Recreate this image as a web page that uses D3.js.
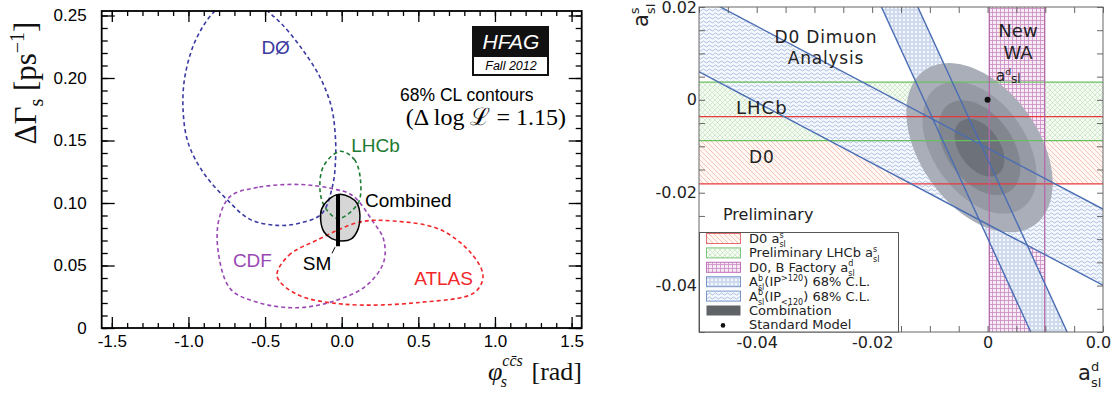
<!DOCTYPE html>
<html>
<head>
<meta charset="utf-8">
<script src="https://d3js.org/d3.v7.min.js"></script>
<style>
  body { margin: 0; background: #fff; }
  svg text { font-family: "Liberation Sans", Arial, sans-serif; }
</style>
</head>
<body>
<svg id="fig" width="1111" height="394"></svg>
<script>
// ---------- left panel: phi_s vs DeltaGamma_s, 68% CL contours ----------
var phiTicks = [-1.5, -1.0, -0.5, 0.0, 0.5, 1.0, 1.5];
var dgTicks = [0, 0.05, 0.10, 0.15, 0.20, 0.25];

var d0Contour = [[-0.62, 0.268], [-0.826, 0.2536], [-0.952, 0.2305], [-1.023, 0.2012], [-1.035, 0.1746],
  [-1.002, 0.1481], [-0.902, 0.1242], [-0.75, 0.1029], [-0.598, 0.0869], [-0.422, 0.0821], [-0.27, 0.0840],
  [-0.13, 0.0915], [-0.06, 0.1135], [-0.04, 0.1348], [-0.043, 0.1561], [-0.068, 0.1773], [-0.144, 0.2012],
  [-0.27, 0.2251], [-0.396, 0.2438], [-0.485, 0.2536]];
var lhcbContour = [[-0.01, 0.1414], [0.083, 0.1348], [0.122, 0.1188], [0.108, 0.1002], [-0.02, 0.0875],
  [-0.10, 0.0949], [-0.14, 0.1082], [-0.119, 0.1294]];
var cdfContour = [[-0.27, 0.1148], [-0.548, 0.1125], [-0.725, 0.1055], [-0.801, 0.0869], [-0.805, 0.0603],
  [-0.725, 0.0311], [-0.548, 0.0205], [-0.295, 0.0162], [-0.043, 0.0218], [0.159, 0.0337], [0.273, 0.0524],
  [0.273, 0.071], [0.206, 0.0848], [0.07, 0.1060], [-0.06, 0.1114]];
var atlasContour = [[-0.422, 0.0417], [-0.346, 0.0580], [-0.163, 0.0702], [0.119, 0.0848], [0.336, 0.0856],
  [0.639, 0.0789], [0.841, 0.0603], [0.922, 0.0417], [0.866, 0.0284], [0.513, 0.0205], [0.008, 0.0191],
  [-0.295, 0.0271]];
var combinedContour = [[-0.022, 0.1069], [0.054, 0.1047], [0.102, 0.0994], [0.119, 0.0901], [0.108, 0.0795],
  [0.065, 0.0715], [0.0, 0.0696], [-0.065, 0.0715], [-0.115, 0.0768], [-0.137, 0.0861], [-0.130, 0.0955],
  [-0.087, 0.1026]];
var smPhi = -0.024;
var smDGamma = [0.0654, 0.1069];

// ---------- right panel: a_sl^d vs a_sl^s ----------
var asdTicks = [-0.04, -0.02, 0, 0.02];
var assTicks = [0.02, 0, -0.02, -0.04];
var d0AssBand = [-0.0181, -0.0036];
var lhcbAssBand = [-0.0088, 0.0038];
var waAsdBand = [0.0003, 0.0099];
var ipHighSlope = -0.3696;            // x = x0 + slope * y
var ipHighX0 = [-0.0110, -0.0047];
var ipLowSlope = -0.657;              // y = y0 + slope * x
var ipLowY0 = [-0.0268, -0.0104];
var comboCenter = [-0.0014, -0.0103];
var comboSigma = [0.01267, 0.01822];
var comboRho = -0.42;
var comboLevels = [1.0, 0.78, 0.56, 0.34];
var smPoint = [0, 0];

var svg = d3.select("#fig");
var defs = svg.append("defs");

// ======================= LEFT =======================
var x1 = d3.scaleLinear().domain([-1.566, 1.566]).range([101.7, 581.7]);
var y1 = d3.scaleLinear().domain([0, 0.2536]).range([328, 11]);
var L = svg.append("g");

defs.append("clipPath").attr("id", "clipL").append("rect")
  .attr("x", x1.range()[0]).attr("y", y1.range()[1])
  .attr("width", x1.range()[1] - x1.range()[0]).attr("height", y1.range()[0] - y1.range()[1]);

var cline = d3.line().x(function(d) { return x1(d[0]); }).y(function(d) { return y1(d[1]); })
  .curve(d3.curveCatmullRomClosed.alpha(0.5));

var plotL = L.append("g").attr("clip-path", "url(#clipL)");

plotL.append("path").datum(combinedContour).attr("d", cline)
  .attr("fill", "#d6d6d6").attr("stroke", "none");

var dashed = [
  { pts: d0Contour, color: "#3a3aa2" },
  { pts: cdfContour, color: "#9a48b4" },
  { pts: atlasContour, color: "#f2272b" },
  { pts: lhcbContour, color: "#1d7a32" }
];
plotL.selectAll("path.cont").data(dashed).enter().append("path")
  .attr("class", "cont")
  .attr("d", function(d) { return cline(d.pts); })
  .attr("fill", "none").attr("stroke", function(d) { return d.color; })
  .attr("stroke-width", 1.6).attr("stroke-dasharray", "4,3");

plotL.append("path").datum(combinedContour).attr("d", cline)
  .attr("fill", "none").attr("stroke", "#000").attr("stroke-width", 1.5);

plotL.append("line")
  .attr("x1", x1(smPhi)).attr("x2", x1(smPhi))
  .attr("y1", y1(smDGamma[0])).attr("y2", y1(smDGamma[1]))
  .attr("stroke", "#000").attr("stroke-width", 4);
plotL.append("line")
  .attr("x1", x1(smPhi) - 3).attr("y1", y1(smDGamma[0]) + 1)
  .attr("x2", x1(smPhi) - 6).attr("y2", y1(smDGamma[0]) + 7)
  .attr("stroke", "#000").attr("stroke-width", 1);

// axes with mirrored ticks
var phiMinor = d3.range(-15, 16).map(function(i) { return i / 10; });
var dgMinor = d3.range(0, 26).map(function(i) { return i / 100; });
function styleAx(g) {
  g.select(".domain").remove();
  g.selectAll(".tick line").attr("stroke", "#000").attr("stroke-width", 1.3);
  g.selectAll("text").attr("fill", "#000").style("font-size", "17px");
}
var xl0 = x1.range()[0], xl1 = x1.range()[1], yl0 = y1.range()[0], yl1 = y1.range()[1];

L.append("g").attr("transform", "translate(0," + yl0 + ")")
  .call(d3.axisBottom(x1).tickValues(phiMinor).tickSize(-5).tickSizeOuter(0).tickFormat("")).call(styleAx);
L.append("g").attr("transform", "translate(0," + yl0 + ")")
  .call(d3.axisBottom(x1).tickValues(phiTicks).tickSize(-11).tickSizeOuter(0).tickPadding(7)
    .tickFormat(function(d) { return d.toFixed(1); })).call(styleAx);
L.append("g").attr("transform", "translate(0," + yl1 + ")")
  .call(d3.axisTop(x1).tickValues(phiMinor).tickSize(-5).tickSizeOuter(0).tickFormat("")).call(styleAx);
L.append("g").attr("transform", "translate(0," + yl1 + ")")
  .call(d3.axisTop(x1).tickValues(phiTicks).tickSize(-11).tickSizeOuter(0).tickFormat("")).call(styleAx);

L.append("g").attr("transform", "translate(" + xl0 + ",0)")
  .call(d3.axisLeft(y1).tickValues(dgMinor).tickSize(-6).tickSizeOuter(0).tickFormat("")).call(styleAx);
L.append("g").attr("transform", "translate(" + xl0 + ",0)")
  .call(d3.axisLeft(y1).tickValues(dgTicks).tickSize(-13).tickSizeOuter(0).tickPadding(15)
    .tickFormat(function(d) { return d === 0 ? "0" : d.toFixed(2); })).call(styleAx);
L.append("g").attr("transform", "translate(" + xl1 + ",0)")
  .call(d3.axisRight(y1).tickValues(dgMinor).tickSize(-6).tickSizeOuter(0).tickFormat("")).call(styleAx);
L.append("g").attr("transform", "translate(" + xl1 + ",0)")
  .call(d3.axisRight(y1).tickValues(dgTicks).tickSize(-13).tickSizeOuter(0).tickFormat("")).call(styleAx);

L.append("rect").attr("x", xl0).attr("y", yl1).attr("width", xl1 - xl0).attr("height", yl0 - yl1)
  .attr("fill", "none").attr("stroke", "#000").attr("stroke-width", 1.8);

// contour labels
var lbl = [
  { t: "DØ", x: -0.524, y: 0.219, c: "#3a3aa2" },
  { t: "LHCb", x: 0.062, y: 0.1406, c: "#1d7a32" },
  { t: "Combined", x: 0.152, y: 0.0967, c: "#000" },
  { t: "CDF", x: -0.71, y: 0.0489, c: "#9a48b4" },
  { t: "SM", x: -0.254, y: 0.0463, c: "#000" },
  { t: "ATLAS", x: 0.473, y: 0.0343, c: "#f2272b" }
];
L.selectAll("text.lbl").data(lbl).enter().append("text").attr("class", "lbl")
  .attr("x", function(d) { return x1(d.x); }).attr("y", function(d) { return y1(d.y); })
  .attr("fill", function(d) { return d.c; }).style("font-size", "19px").text(function(d) { return d.t; });

// HFAG logo and CL note
L.append("rect").attr("x", 472).attr("y", 26).attr("width", 77).attr("height", 50).attr("fill", "#111");
L.append("rect").attr("x", 474).attr("y", 57).attr("width", 73).attr("height", 17).attr("fill", "#fff");
L.append("text").attr("x", 511).attr("y", 49).attr("text-anchor", "middle").attr("fill", "#fff")
  .style("font-size", "21px").style("font-style", "italic").text("HFAG");
L.append("text").attr("x", 511).attr("y", 70).attr("text-anchor", "middle").attr("fill", "#000")
  .style("font-size", "12.5px").style("font-style", "italic").text("Fall 2012");
L.append("text").attr("x", 400).attr("y", 101).style("font-size", "17.5px").text("68% CL contours");
L.append("text").attr("x", 566).attr("y", 125).attr("text-anchor", "end")
  .style("font-family", "'Liberation Serif', 'DejaVu Serif', serif").style("font-size", "24px")
  .text("(Δ log ℒ = 1.15)");

// axis titles
var yt = L.append("text").attr("transform", "translate(36,83) rotate(-90)").attr("text-anchor", "middle")
  .style("font-family", "'Liberation Serif', serif").style("font-size", "31px").attr("fill", "#111");
yt.append("tspan").text("ΔΓ");
yt.append("tspan").attr("dy", 7).style("font-size", "20px").text("s");
yt.append("tspan").attr("dy", -7).text(" [ps");
yt.append("tspan").attr("dy", -12).style("font-size", "20px").text("−1");
yt.append("tspan").attr("dy", 12).text("]");

var xt = L.append("text").attr("x", 582).attr("y", 380).attr("text-anchor", "end")
  .style("font-family", "'Liberation Serif', serif").style("font-size", "26px").attr("fill", "#111");
xt.append("tspan").style("font-style", "italic").text("φ");
xt.append("tspan").attr("dy", -14).style("font-size", "16px").style("font-style", "italic").text("cc̄s");
xt.append("tspan").attr("dx", -22).attr("dy", 21).style("font-size", "16px").style("font-style", "italic").text("s");
xt.append("tspan").attr("dx", 18).attr("dy", -7).text(" [rad]");

// ======================= RIGHT =======================
var x2 = d3.scaleLinear().domain([-0.05, 0.02]).range([699, 1103]);
var y2 = d3.scaleLinear().domain([-0.05, 0.02]).range([332, 7]);
var R = svg.append("g");
var xr0 = x2.range()[0], xr1 = x2.range()[1], yr0 = y2.range()[0], yr1 = y2.range()[1];

defs.append("clipPath").attr("id", "clipR").append("rect")
  .attr("x", xr0).attr("y", yr1).attr("width", xr1 - xr0).attr("height", yr0 - yr1);

function pattern(id, w, h, bg) {
  var p = defs.append("pattern").attr("id", id).attr("patternUnits", "userSpaceOnUse")
    .attr("width", w).attr("height", h);
  if (bg) p.append("rect").attr("width", w).attr("height", h).attr("fill", bg);
  return p;
}
pattern("pRed", 5, 5, "#fff8f5").append("path").attr("d", "M0,0L5,5M-1,4L1,6M4,-1L6,1")
  .attr("stroke", "#f1ad9b").attr("stroke-width", 0.7);
pattern("pGreen", 5, 5, "#f6fbf4").append("path").attr("d", "M0,0L5,5M5,0L0,5M-1,4L1,6M4,-1L6,1M-1,1L1,-1M4,6L6,4")
  .attr("stroke", "#b2dbac").attr("stroke-width", 0.55);
pattern("pPurple", 4, 4, "#f7eaf5").append("path").attr("d", "M0,0.5H4M0.5,0V4")
  .attr("stroke", "#c98ac4").attr("stroke-width", 0.8);
pattern("pDots", 4, 4, "#f5f8fd").append("circle").attr("cx", 2).attr("cy", 2).attr("r", 1.3)
  .attr("fill", "none").attr("stroke", "#8ea6d6").attr("stroke-width", 0.6);
pattern("pWave", 6, 4, "#f5f8fd").append("path").attr("d", "M0,2Q1.5,0 3,2T6,2")
  .attr("fill", "none").attr("stroke", "#8ea6d6").attr("stroke-width", 0.7);

var plotR = R.append("g").attr("clip-path", "url(#clipR)");
var pline = d3.line().x(function(d) { return x2(d[0]); }).y(function(d) { return y2(d[1]); });

// hatched band fills
[[d0AssBand, "pRed"], [lhcbAssBand, "pGreen"]].forEach(function(b) {
  plotR.append("rect").attr("x", xr0).attr("width", xr1 - xr0)
    .attr("y", y2(b[0][1])).attr("height", y2(b[0][0]) - y2(b[0][1])).attr("fill", "url(#" + b[1] + ")");
});
plotR.append("rect").attr("x", x2(waAsdBand[0])).attr("width", x2(waAsdBand[1]) - x2(waAsdBand[0]))
  .attr("y", yr1).attr("height", yr0 - yr1).attr("fill", "url(#pPurple)");

var yTop = 0.03, yBot = -0.06, xLo = -0.06, xHi = 0.03;
function hiLine(x0) { return [[x0 + ipHighSlope * yTop, yTop], [x0 + ipHighSlope * yBot, yBot]]; }
function loLine(y0) { return [[xLo, y0 + ipLowSlope * xLo], [xHi, y0 + ipLowSlope * xHi]]; }
var hiA = hiLine(ipHighX0[0]), hiB = hiLine(ipHighX0[1]);
var loA = loLine(ipLowY0[0]), loB = loLine(ipLowY0[1]);
plotR.append("path").attr("d", pline([hiA[0], hiB[0], hiB[1], hiA[1]]) + "Z").attr("fill", "url(#pDots)");
plotR.append("path").attr("d", pline([loA[0], loB[0], loB[1], loA[1]]) + "Z").attr("fill", "url(#pWave)");

// combination contours
var shades = ["#a9aeb9", "#959aa5", "#81868f", "#6d7179"];
var rhoC = Math.sqrt(1 - comboRho * comboRho);
var angles = d3.range(0, 360, 3);
plotR.selectAll("path.combo").data(comboLevels).enter().append("path").attr("class", "combo")
  .attr("d", function(k) {
    return pline(angles.map(function(a) {
      var t = a * Math.PI / 180, u = Math.cos(t), v = Math.sin(t);
      return [comboCenter[0] + k * comboSigma[0] * u,
              comboCenter[1] + k * comboSigma[1] * (comboRho * u + rhoC * v)];
    })) + "Z";
  })
  .attr("fill", function(k, i) { return shades[i]; });

// band edges
[[d0AssBand, "#e8393a"], [lhcbAssBand, "#6abf5f"]].forEach(function(b) {
  b[0].forEach(function(v) {
    plotR.append("line").attr("x1", xr0).attr("x2", xr1).attr("y1", y2(v)).attr("y2", y2(v))
      .attr("stroke", b[1]).attr("stroke-width", 1.3);
  });
});
waAsdBand.forEach(function(v) {
  plotR.append("line").attr("x1", x2(v)).attr("x2", x2(v)).attr("y1", yr1).attr("y2", yr0)
    .attr("stroke", "#b36aa9").attr("stroke-width", 1.3);
});
[hiA, hiB, loA, loB].forEach(function(l) {
  plotR.append("path").attr("d", pline(l)).attr("stroke", "#4a6db3").attr("stroke-width", 1.4).attr("fill", "none");
});
plotR.append("circle").attr("cx", x2(smPoint[0])).attr("cy", y2(smPoint[1])).attr("r", 3).attr("fill", "#111");

// right axes: inward ticks every 0.005 on all sides
var rMinor = d3.range(-10, 5).map(function(i) { return i * 0.005; });
function styleR(g) {
  g.select(".domain").remove();
  g.selectAll(".tick line").attr("stroke", "#666").attr("stroke-width", 1);
  g.selectAll("text").attr("fill", "#222").style("font-family", "'DejaVu Sans', sans-serif").style("font-size", "16px");
}
function fmtR(d) { return Math.abs(d) < 1e-9 ? "0" : d.toFixed(2); }
R.append("g").attr("transform", "translate(0," + yr0 + ")")
  .call(d3.axisBottom(x2).tickValues(rMinor).tickSize(-6).tickSizeOuter(0).tickFormat("")).call(styleR);
R.append("g").attr("transform", "translate(0," + yr0 + ")")
  .call(d3.axisBottom(x2).tickValues(asdTicks).tickSize(0).tickPadding(5).tickFormat(fmtR)).call(styleR);
R.append("g").attr("transform", "translate(0," + yr1 + ")")
  .call(d3.axisTop(x2).tickValues(rMinor).tickSize(-6).tickSizeOuter(0).tickFormat("")).call(styleR);
R.append("g").attr("transform", "translate(" + xr0 + ",0)")
  .call(d3.axisLeft(y2).tickValues(rMinor).tickSize(-6).tickSizeOuter(0).tickFormat("")).call(styleR);
R.append("g").attr("transform", "translate(" + xr0 + ",0)")
  .call(d3.axisLeft(y2).tickValues(assTicks).tickSize(0).tickPadding(2).tickFormat(fmtR)).call(styleR);
R.append("g").attr("transform", "translate(" + xr1 + ",0)")
  .call(d3.axisRight(y2).tickValues(rMinor).tickSize(-6).tickSizeOuter(0).tickFormat("")).call(styleR);

R.append("rect").attr("x", xr0).attr("y", yr1).attr("width", xr1 - xr0).attr("height", yr0 - yr1)
  .attr("fill", "none").attr("stroke", "#666").attr("stroke-width", 1);

// rich text helper (sup / sub / stacked)
function rich(t, parts, size) {
  var shift = 0, prev = null;
  parts.forEach(function(p) {
    var s = t.append("tspan").text(p.t);
    var target = p.sup ? -0.42 * size : (p.sub ? 0.32 * size : 0);
    if (target - shift !== 0) s.attr("dy", target - shift);
    shift = target;
    if (p.sup || p.sub) s.style("font-size", (size * 0.62) + "px");
    if (p.stack && prev) s.attr("dx", -prev.node().getComputedTextLength());
    prev = s;
  });
}
var sans = "'DejaVu Sans', sans-serif";

// annotations
function note(x, y, size, txt, anchor) {
  return R.append("text").attr("x", x).attr("y", y).attr("text-anchor", anchor || "start")
    .style("font-family", sans).style("font-size", size + "px").attr("fill", "#222").text(txt);
}
note(826, 43, 17, "D0 Dimuon", "middle").style("letter-spacing", "0.8px");
note(826, 64, 17, "Analysis", "middle").style("letter-spacing", "0.8px");
note(1018, 37, 18, "New", "middle");
note(1018, 59, 18, "WA", "middle");
var wa = R.append("text").attr("x", 996).attr("y", 81).style("font-family", sans)
  .style("font-size", "15px").attr("fill", "#222");
rich(wa, [{ t: "a" }, { t: "d", sup: true }, { t: "sl" }], 15);
wa.selectAll("tspan").filter(function(d, i) { return i === 2; }).style("font-size", "12px").attr("dy", 8);
note(736, 114, 18, "LHCb").style("letter-spacing", "1px");
note(749, 163, 17, "D0").style("letter-spacing", "1px");
note(723, 220, 16, "Preliminary");

// axis titles
var ryt = R.append("text").attr("transform", "translate(648,27) rotate(-90)")
  .style("font-family", sans).style("font-size", "21px").attr("fill", "#222");
rich(ryt, [{ t: "a" }, { t: "s", sup: true }, { t: "sl", sub: true, stack: true }], 21);
var rxt = R.append("text").attr("x", 1078).attr("y", 380)
  .style("font-family", sans).style("font-size", "21px").attr("fill", "#222");
rich(rxt, [{ t: "a" }, { t: "d", sup: true }, { t: "sl", sub: true, stack: true }], 21);

// legend
var legend = [
  { fill: "url(#pRed)", stroke: "#e46e6e", parts: [{ t: "D0 a" }, { t: "s", sup: true }, { t: "sl", sub: true, stack: true }] },
  { fill: "url(#pGreen)", stroke: "#7cc47c", parts: [{ t: "Preliminary LHCb a" }, { t: "s", sup: true }, { t: "sl", sub: true, stack: true }] },
  { fill: "url(#pPurple)", stroke: "#c070b8", parts: [{ t: "D0, B Factory a" }, { t: "d", sup: true }, { t: "sl", sub: true, stack: true }] },
  { fill: "url(#pDots)", stroke: "#7a97cc", parts: [{ t: "A" }, { t: "b", sup: true }, { t: "sl", sub: true, stack: true }, { t: "(IP" }, { t: ">120", sup: true }, { t: ") 68% C.L." }] },
  { fill: "url(#pWave)", stroke: "#7a97cc", parts: [{ t: "A" }, { t: "b", sup: true }, { t: "sl", sub: true, stack: true }, { t: "(IP" }, { t: "<120", sub: true }, { t: ") 68% C.L." }] },
  { fill: "#5f6267", stroke: "none", parts: [{ t: "Combination" }] },
  { dot: true, parts: [{ t: "Standard Model" }] }
];
var lg = R.append("g");
lg.append("rect").attr("x", 699.5).attr("y", 232.5).attr("width", 199).attr("height", 99.5)
  .attr("fill", "#fff").attr("stroke", "#555").attr("stroke-width", 1);
legend.forEach(function(d, i) {
  var base = 243 + i * 14.4;
  if (d.dot) {
    lg.append("circle").attr("cx", 723).attr("cy", base - 4).attr("r", 2.3).attr("fill", "#111");
  } else {
    lg.append("rect").attr("x", 706.5).attr("y", base - 9.5).attr("width", 34).attr("height", 10)
      .attr("fill", d.fill).attr("stroke", d.stroke).attr("stroke-width", 1);
  }
  var t = lg.append("text").attr("x", 749).attr("y", base).style("font-family", sans)
    .style("font-size", "13px").attr("fill", "#222");
  rich(t, d.parts, 13);
});
</script>
</body>
</html>
